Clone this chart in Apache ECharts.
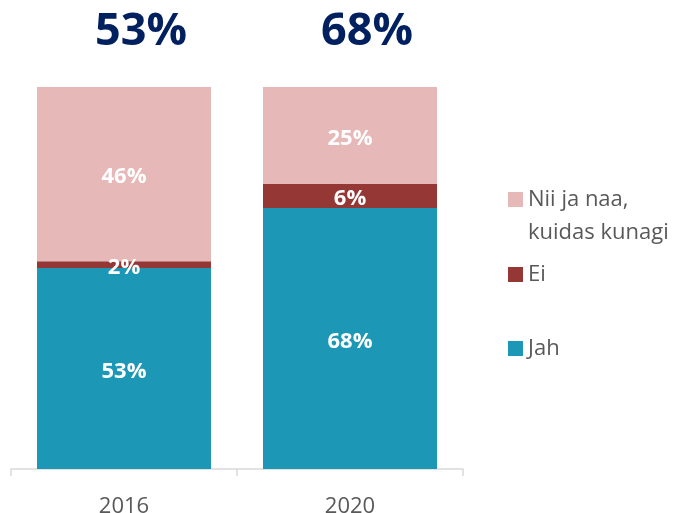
<!DOCTYPE html>
<html>
<head>
<meta charset="utf-8">
<script src="https://cdn.jsdelivr.net/npm/echarts@6/dist/echarts.min.js"></script>
<style>
  html, body { margin: 0; padding: 0; background: #fff; }
  #chart { width: 679px; height: 513px; }
</style>
</head>
<body>
<div id="chart"></div>
<script>
// andmed
const years = ["2016", "2020"];
const jah = [52.6, 68.3];
const ei = [1.8, 6.3];
const niiJaNaa = [45.6, 25.4];
const topLabels = ["53%", "68%"];

const NII = "Nii ja naa,\nkuidas kunagi";
const font = "Open Sans";

const chart = echarts.init(document.getElementById("chart"));

const segLabel = {
  show: true,
  position: "inside",
  offset: [0, 3],
  color: "#fff",
  fontFamily: font,
  fontWeight: "bold",
  fontSize: 22,
  formatter: (p) => Math.round(p.value) + "%",
};

function legendItem(name, top, fmt) {
  return {
    data: [name],
    left: 508,
    top: top,
    padding: 0,
    icon: "rect",
    itemWidth: 15,
    itemHeight: 15,
    selectedMode: false,
    formatter: fmt,
    textStyle: { color: "#595959", fontFamily: font, fontSize: 22, lineHeight: 33 },
  };
}

const option = {
  animation: false,
  backgroundColor: "#fff",
  grid: { left: 11, right: 216, top: 87, bottom: 44, outerBoundsMode: "none" },
  legend: [
    // tühi esimene rida, et ikoon oleks esimese rea kõrgusel
    legendItem(NII, 200 - 50, (n) => "\n" + n),
    legendItem("Ei", 274 - 16),
    legendItem("Jah", 348 - 16),
  ],
  xAxis: [
    {
      type: "category",
      data: years,
      axisLine: { lineStyle: { color: "#d9d9d9", width: 1.5 } },
      axisTick: { show: true, length: 7, lineStyle: { color: "#d9d9d9", width: 1.5 } },
      axisLabel: { color: "#595959", fontFamily: font, fontSize: 22, margin: 27 },
    },
    {
      type: "category",
      position: "top",
      data: years,
      axisLine: { show: false },
      axisTick: { show: false },
      axisLabel: {
        color: "#002060",
        fontFamily: font,
        fontWeight: "bold",
        fontSize: 45,
        verticalAlign: "middle",
        margin: 55,
        padding: [0, 0, 0, 34],
        formatter: (v, i) => topLabels[i],
      },
    },
  ],
  yAxis: { type: "value", min: 0, max: 100, show: false },
  series: [
    {
      name: "Jah",
      type: "bar",
      stack: "a",
      data: jah,
      barCategoryGap: "23%",
      itemStyle: { color: "#1C98B6" },
      label: segLabel,
    },
    {
      name: "Ei",
      type: "bar",
      stack: "a",
      data: ei,
      barCategoryGap: "23%",
      itemStyle: { color: "#953735" },
      label: segLabel,
    },
    {
      name: NII,
      type: "bar",
      stack: "a",
      data: niiJaNaa,
      barCategoryGap: "23%",
      itemStyle: { color: "#E6B8B7" },
      label: segLabel,
    },
  ],
};

chart.setOption(option);
</script>
</body>
</html>
